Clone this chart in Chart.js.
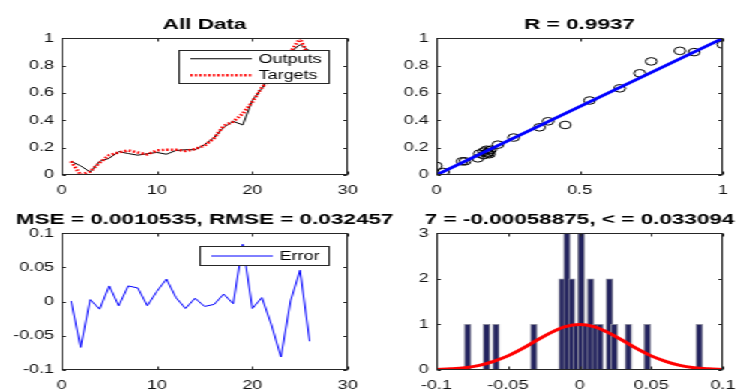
<!DOCTYPE html>
<html>
<head>
<meta charset="utf-8">
<script src="https://cdn.jsdelivr.net/npm/chart.js@4.4.1/dist/chart.umd.min.js"></script>
<style>
  html, body { margin: 0; padding: 0; background: #fff; overflow: hidden; width: 739px; height: 390px; }
  /* the reference figure is stretched sideways, so draw narrow and stretch */
  #stretch { position: absolute; left: 0; top: 0; width: 493px; height: 390px; transform: scaleX(1.5); transform-origin: 0 0; }
  #stretch canvas { position: absolute; }
</style>
</head>
<body>
<div id="stretch">
  <canvas id="all-data" width="291" height="200" style="left:-9px;top:0px"></canvas>
  <canvas id="regression" width="291" height="200" style="left:241px;top:0px"></canvas>
  <canvas id="error-plot" width="291" height="195" style="left:-9px;top:195px"></canvas>
  <canvas id="error-hist" width="291" height="195" style="left:241px;top:195px"></canvas>
</div>
<script>
// sample index 1..26
const samples = [1, 2, 3, 4, 5, 6, 7, 8, 9, 10, 11, 12, 13, 14, 15, 16, 17, 18, 19, 20, 21, 22, 23, 24, 25, 26];
const targets = [0.10, 0.00, 0.025, 0.09, 0.145, 0.165, 0.18, 0.165, 0.15, 0.18, 0.185, 0.185, 0.175,
  0.19, 0.215, 0.27, 0.36, 0.39, 0.45, 0.535, 0.64, 0.71, 0.75, 0.90, 1.00, 0.85];
const outputs = [0.10, 0.067, 0.022, 0.10, 0.122, 0.171, 0.157, 0.145, 0.156, 0.165, 0.152, 0.179, 0.185,
  0.185, 0.222, 0.274, 0.349, 0.393, 0.366, 0.545, 0.634, 0.744, 0.831, 0.899, 0.954, 0.908];
const errors = [0.001, -0.067, 0.003, -0.011, 0.023, -0.006, 0.023, 0.020, -0.006, 0.015, 0.033, 0.006, -0.010,
  0.005, -0.007, -0.004, 0.011, -0.003, 0.084, -0.010, 0.006, -0.034, -0.081, 0.001, 0.046, -0.058];

// regression fit line ends
const fitX = [0, 1];
const fitY = [0, 1];

// error histogram: bin centres and counts
const histBins = [-0.07815, -0.06495, -0.05835, -0.03195, -0.01215, -0.00885, -0.00555, -0.00225, 0.00105,
  0.00435, 0.00765, 0.01095, 0.01425, 0.02085, 0.02415, 0.03405, 0.04725, 0.08355];
const histCounts = [1, 1, 1, 1, 2, 3, 2, 1, 3, 1, 2, 1, 1, 2, 1, 1, 1, 1];

// red normal curve
const curveX = [-0.1, -0.09, -0.08, -0.07, -0.06, -0.05, -0.04, -0.03, -0.02, -0.01, 0,
  0.01, 0.02, 0.03, 0.04, 0.05, 0.06, 0.07, 0.08, 0.09, 0.1];
const curveY = [0.01, 0.025, 0.05, 0.10, 0.19, 0.31, 0.47, 0.65, 0.82, 0.95, 1.0,
  0.95, 0.82, 0.65, 0.47, 0.31, 0.19, 0.10, 0.05, 0.025, 0.01];

// tick labels
const sampleTicks = [0, 10, 20, 30];
const unitTicks = [0, 0.2, 0.4, 0.6, 0.8, 1];
const regrXTicks = [0, 0.5, 1];
const errorTicks = [-0.1, -0.05, 0, 0.05, 0.1];
const countTicks = [0, 1, 2, 3];

Chart.defaults.font.family = '"Liberation Sans", Arial, Helvetica, sans-serif';
Chart.defaults.animation = false;

function axis(min, max, ticks, isX, xHeight) {
  return {
    type: "linear",
    min: min,
    max: max,
    offset: false,
    grid: { display: false, drawTicks: false },
    border: { display: false },
    afterBuildTicks: (scale) => { scale.ticks = ticks.map((v) => ({ value: v })); },
    afterFit: (scale) => { if (isX) { scale.height = xHeight; } else { scale.width = 50; } },
    ticks: {
      color: "#111",
      font: { size: 12 },
      padding: isX ? 8 : 5,
      maxRotation: 0,
      autoSkip: false,
      callback: (v) => String(v),
    },
  };
}

// empty axis on the right so the plot sits centred under the title
const rightPad = {
  position: "right",
  display: true,
  grid: { display: false, drawTicks: false },
  border: { display: false },
  ticks: { display: false },
  afterFit: (scale) => { scale.width = 50; },
};

function title(text, padTop, padBottom) {
  return {
    display: true,
    text: text,
    color: "#000",
    font: { size: 15, weight: "bold" },
    padding: { top: padTop, bottom: padBottom },
  };
}

// box round the plot with inward ticks, plus a MATLAB style legend box
const framePlugin = {
  id: "frame",
  afterDraw(chart, args, opts) {
    const ctx = chart.ctx;
    const xs = chart.scales.x;
    const ys = chart.scales.y;
    const left = Math.round(chart.chartArea.left) + 0.5;
    const right = Math.round(chart.chartArea.right) - 0.5;
    const top = Math.round(chart.chartArea.top) + 0.5;
    const bottom = Math.round(chart.chartArea.bottom) - 0.5;
    ctx.save();

    if (opts.legend) {
      const L = opts.legend;
      const x0 = Math.round(xs.getPixelForValue(L.x0)) + 0.5;
      const x1 = Math.round(xs.getPixelForValue(L.x1)) + 0.5;
      const y0 = Math.round(ys.getPixelForValue(L.y0)) + 0.5;
      const y1 = Math.round(ys.getPixelForValue(L.y1)) + 0.5;
      ctx.fillStyle = "#fff";
      ctx.fillRect(x0, y0, x1 - x0, y1 - y0);
      ctx.strokeStyle = "#262626";
      ctx.lineWidth = 1;
      ctx.strokeRect(x0, y0, x1 - x0, y1 - y0);
      const items = chart.data.datasets.filter((ds) => ds.label);
      const rowH = (y1 - y0) / items.length;
      items.forEach((ds, i) => {
        const cy = y0 + rowH * (i + 0.5);
        ctx.beginPath();
        ctx.setLineDash(ds.borderDash || []);
        ctx.strokeStyle = ds.borderColor;
        ctx.lineWidth = ds.borderWidth;
        ctx.moveTo(x0 + 7.5, cy);
        ctx.lineTo(x0 + 48.5, cy);
        ctx.stroke();
        ctx.setLineDash([]);
        ctx.fillStyle = "#000";
        ctx.font = '12px "Liberation Sans", Arial, sans-serif';
        ctx.textAlign = "left";
        ctx.textBaseline = "middle";
        ctx.fillText(ds.label, x0 + 53, cy + 0.5);
      });
    }

    ctx.strokeStyle = "#262626";
    ctx.lineWidth = 1;
    ctx.strokeRect(left, top, right - left, bottom - top);
    ctx.beginPath();
    xs.ticks.forEach((t) => {
      const px = Math.round(xs.getPixelForValue(t.value)) + 0.5;
      ctx.moveTo(px, bottom); ctx.lineTo(px, bottom - 3);
      ctx.moveTo(px, top); ctx.lineTo(px, top + 3);
    });
    ys.ticks.forEach((t) => {
      const py = Math.round(ys.getPixelForValue(t.value)) + 0.5;
      ctx.moveTo(left, py); ctx.lineTo(left + 2.5, py);
      ctx.moveTo(right, py); ctx.lineTo(right - 2.5, py);
    });
    ctx.stroke();
    ctx.restore();
  },
};

const common = {
  responsive: false,
  animation: false,
  layout: { padding: 0 },
};

// All Data
new Chart(document.querySelector("#all-data").getContext("2d"), {
  type: "line",
  data: {
    datasets: [
      {
        label: "Outputs",
        data: samples.map((s, i) => ({ x: s, y: outputs[i] })),
        borderColor: "#000",
        borderWidth: 1,
        pointRadius: 0,
        order: 2,
      },
      {
        label: "Targets",
        data: samples.map((s, i) => ({ x: s, y: targets[i] })),
        borderColor: "#ff0000",
        borderWidth: 2.5,
        borderDash: [1.5, 1.5],
        pointRadius: 0,
        order: 1,
      },
    ],
  },
  options: {
    ...common,
    scales: { x: axis(0, 30, sampleTicks, true, 25), y: axis(0, 1, unitTicks, false), yr: rightPad },
    plugins: {
      legend: { display: false },
      tooltip: { enabled: false },
      title: title("All Data", 16, 4.3),
      frame: { legend: { x0: 12.2, x1: 27.9, y0: 0.915, y1: 0.67 } },
    },
  },
  plugins: [framePlugin],
});

// Regression
new Chart(document.querySelector("#regression").getContext("2d"), {
  type: "scatter",
  data: {
    datasets: [
      {
        data: fitX.map((x, i) => ({ x: x, y: fitY[i] })),
        showLine: true,
        borderColor: "#0000ff",
        borderWidth: 2.7,
        pointRadius: 0,
      },
      {
        data: targets.map((t, i) => ({ x: t, y: outputs[i] })),
        pointStyle: "circle",
        pointRadius: 3.8,
        borderColor: "#000",
        borderWidth: 1,
        backgroundColor: "rgba(0,0,0,0)",
      },
    ],
  },
  options: {
    ...common,
    scales: { x: axis(0, 1, regrXTicks, true, 25), y: axis(0, 1, unitTicks, false), yr: rightPad },
    plugins: {
      legend: { display: false },
      tooltip: { enabled: false },
      title: title("R = 0.9937", 16, 4.3),
    },
  },
  plugins: [framePlugin],
});

// Error
new Chart(document.querySelector("#error-plot").getContext("2d"), {
  type: "line",
  data: {
    datasets: [
      {
        label: "Error",
        data: samples.map((s, i) => ({ x: s, y: errors[i] })),
        borderColor: "#0000ff",
        borderWidth: 1,
        pointRadius: 0,
      },
    ],
  },
  options: {
    ...common,
    scales: { x: axis(0, 30, sampleTicks, true, 20), y: axis(-0.1, 0.1, errorTicks, false), yr: rightPad },
    plugins: {
      legend: { display: false },
      tooltip: { enabled: false },
      title: title("MSE = 0.0010535, RMSE = 0.032457", 15.5, 4.8),
      frame: { legend: { x0: 14.5, x1: 27.9, y0: 0.082, y1: 0.054 } },
    },
  },
  plugins: [framePlugin],
});

// Error histogram
new Chart(document.querySelector("#error-hist").getContext("2d"), {
  type: "bar",
  data: {
    datasets: [
      {
        type: "line",
        data: curveX.map((x, i) => ({ x: x, y: curveY[i] })),
        borderColor: "#ff0000",
        borderWidth: 3,
        pointRadius: 0,
        cubicInterpolationMode: "monotone",
      },
      {
        type: "bar",
        data: histBins.map((x, i) => ({ x: x, y: histCounts[i] })),
        backgroundColor: "#23235e",
        borderColor: "#8a8a9c",
        borderWidth: 1,
        barThickness: 4.4,
      },
    ],
  },
  options: {
    ...common,
    scales: { x: axis(-0.1, 0.1, errorTicks, true, 20), y: axis(0, 3, countTicks, false), yr: rightPad },
    plugins: {
      legend: { display: false },
      tooltip: { enabled: false },
      title: title("7 = -0.00058875, < = 0.033094", 15.5, 4.8),
    },
  },
  plugins: [framePlugin],
});
</script>
</body>
</html>
